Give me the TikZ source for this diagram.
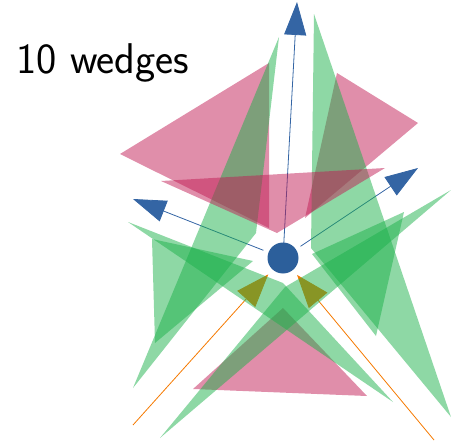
\documentclass[tikz,border=0pt]{standalone}
\usepackage{tikz}
\usetikzlibrary{arrows.meta}

\definecolor{arrowblue}{RGB}{52,101,164}
\definecolor{vertexblue}{RGB}{44,95,155}
\definecolor{rayorange}{RGB}{245,121,0}
\definecolor{wedgepink}{RGB}{193,29,85}
\definecolor{wedgegreen}{RGB}{29,177,75}

\tikzset{
  outarrow/.style={draw=arrowblue, line width=0.8pt, -{Triangle[length=33pt, width=22pt]}},
  inarrow/.style={draw=rayorange, line width=0.8pt, -{Triangle[length=33pt, width=24pt]}},
  pinkwedge/.style={fill=wedgepink, fill opacity=0.5},
  greenwedge/.style={fill=wedgegreen, fill opacity=0.5}
}

\begin{document}
\begin{tikzpicture}[x=1pt, y=-1pt]

      \useasboundingbox (0,0) rectangle (451,442);

      % Title.
      \node[anchor=base west, inner sep=0pt, font=\sffamily\fontsize{43}{52}\selectfont] (title) at (16,73) {10 wedges};

      % The vertex and the ends of its rays.
      \node[fill=vertexblue, circle, minimum size=31pt, inner sep=0pt] (v) at (283,258) {};
      \coordinate (tipU) at (297,2);
      \coordinate (tipL) at (133,199);
      \coordinate (tipR) at (418,168);
      \coordinate (srcL) at (133,425);
      \coordinate (srcR) at (434,440);

      % Outgoing and incoming rays.
      \draw[outarrow, shorten <=15pt] (v.center) -- (tipU);
      \draw[outarrow, shorten <=21pt] (v.center) -- (tipL);
      \draw[outarrow, shorten <=21pt] (v.center) -- (tipR);
      \draw[inarrow, shorten >=22pt] (srcL) -- (v.center);
      \draw[inarrow, shorten >=22pt] (srcR) -- (v.center);

      % Pink wedges below the green ones.
      \fill[pinkwedge] (120,154) -- (269,63) -- (269,228) -- cycle;  % Upper left
      \fill[pinkwedge] (337,73) -- (418,123) -- (305,218) -- cycle;  % Upper right
      \fill[pinkwedge] (193,389) -- (367,396) -- (283,308) -- cycle; % Bottom

      % Green wedges.
      \fill[greenwedge] (279,37) -- (256,233) -- (133,388) -- cycle;  % Long, upper left
      \fill[greenwedge] (314,14) -- (311,248) -- (451,417) -- cycle;  % Long, upper right
      \fill[greenwedge] (128,222) -- (283,283) -- (393,402) -- cycle; % Long, lower left
      \fill[greenwedge] (451,190) -- (285,287) -- (160,438) -- cycle; % Long, lower right
      \fill[greenwedge] (152,239) -- (253,261) -- (155,343) -- cycle; % Short, left
      \fill[greenwedge] (404,212) -- (312,254) -- (376,336) -- cycle; % Short, right

      % Middle pink wedge on top.
      \fill[pinkwedge] (161,181) -- (385,168) -- (277,233) -- cycle;
    \end{tikzpicture}
\end{document}
